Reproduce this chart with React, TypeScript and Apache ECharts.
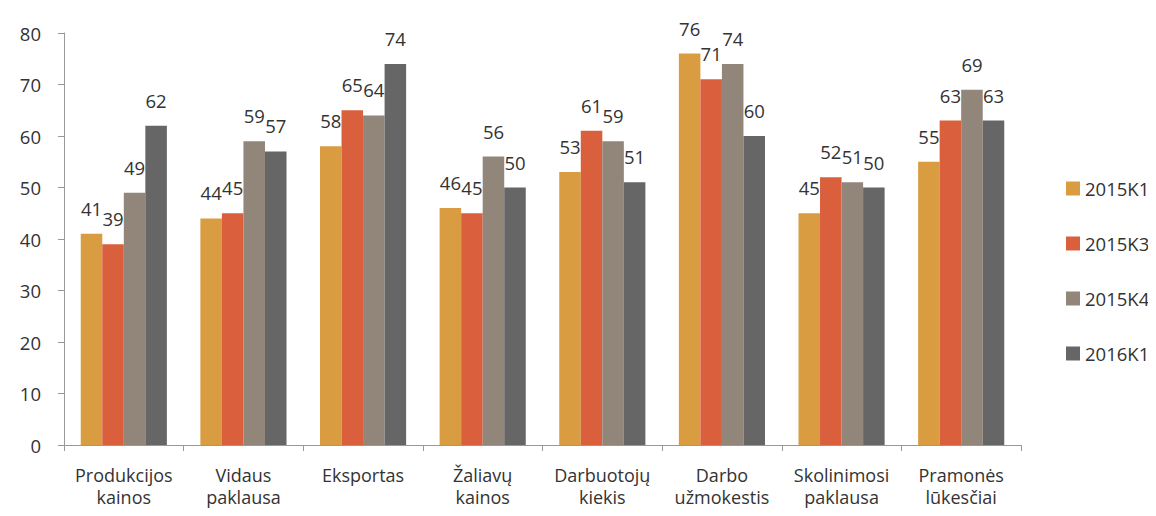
import React, { useEffect, useRef } from "react";
import * as echarts from "echarts";

const categories = [
  "Produkcijos\nkainos",
  "Vidaus\npaklausa",
  "Eksportas",
  "Žaliavų\nkainos",
  "Darbuotojų\nkiekis",
  "Darbo\nužmokestis",
  "Skolinimosi\npaklausa",
  "Pramonės\nlūkesčiai",
];
const seriesNames = ["2015K1", "2015K3", "2015K4", "2016K1"];
const s2015K1 = [41, 44, 58, 46, 53, 76, 45, 55];
const s2015K3 = [39, 45, 65, 45, 61, 71, 52, 63];
const s2015K4 = [49, 59, 64, 56, 59, 74, 51, 69];
const s2016K1 = [62, 57, 74, 50, 51, 60, 50, 63];
const seriesValues = [s2015K1, s2015K3, s2015K4, s2016K1];
const colors = ["#D99C40", "#DA5F3D", "#928579", "#666666"];

const FONT = "'Open Sans', 'Noto Sans', sans-serif";
const TEXT = "#333333";
const FS = 18.5;

export default function App() {
  const ref = useRef<HTMLDivElement>(null);
  useEffect(() => {
    if (!ref.current) return;
    const chart = echarts.init(ref.current, null, { renderer: "svg" });
    chart.setOption({
      animation: false,
      textStyle: { fontFamily: FONT },
      grid: { left: 56, right: 135, top: 25, bottom: 60, containLabel: false },
      legend: {
        orient: "vertical",
        left: 1053,
        top: 166,
        itemWidth: 14,
        itemHeight: 14,
        itemGap: 36,
        icon: "rect",
        textStyle: { fontSize: FS, color: TEXT, fontFamily: FONT },
        data: seriesNames,
      },
      xAxis: {
        type: "category",
        data: categories,
        axisLine: { lineStyle: { color: "#999999", width: 1 } },
        axisTick: { show: true, length: 6, lineStyle: { color: "#999999" } },
        axisLabel: {
          fontSize: 18,
          color: TEXT,
          lineHeight: 22,
          margin: 19,
          interval: 0,
          fontFamily: FONT,
        },
      },
      yAxis: {
        type: "value",
        min: 0,
        max: 80,
        interval: 10,
        splitLine: { show: false },
        axisLine: { show: true, lineStyle: { color: "#999999", width: 1 } },
        axisTick: { show: true, length: 6, lineStyle: { color: "#999999" } },
        axisLabel: { fontSize: FS, color: TEXT, margin: 23, fontFamily: FONT },
      },
      series: seriesNames.map((name, i) => ({
        name,
        type: "bar",
        data: seriesValues[i],
        barGap: "0%",
        barCategoryGap: "28%",
        itemStyle: { color: colors[i] },
        label: {
          show: true,
          position: "top",
          distance: 16,
          fontSize: FS,
          color: TEXT,
          fontFamily: FONT,
        },
      })),
    });
    return () => chart.dispose();
  }, []);
  return <div ref={ref} style={{ width: 1148, height: 500 }} />;
}
